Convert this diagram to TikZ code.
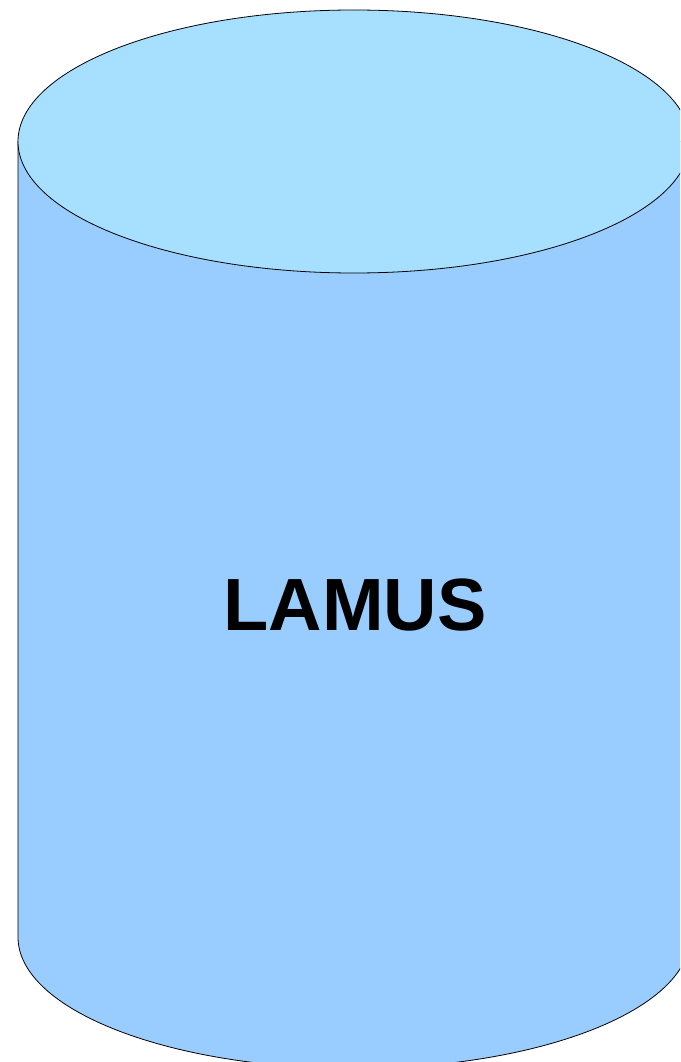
\documentclass[tikz,border=0pt]{standalone}
\usepackage{fontspec}
\setmainfont{Liberation Sans}
\definecolor{bodyblue}{HTML}{99CCFF}
\definecolor{topblue}{HTML}{A6DFFF}
\begin{document}
\begin{tikzpicture}[x=1pt,y=1pt,
  cyl/.style={draw=black,line width=0.8pt},
  lbl/.style={font=\fontsize{74}{78}\selectfont\bfseries,text=black,inner sep=0pt}]
\useasboundingbox (0,0) rectangle (680,-1062);
\clip (0,0) rectangle (680,-1062);
% body
\path[cyl,fill=bodyblue] (18,-141.5) -- (18,-937)
  arc[start angle=180,end angle=360,x radius=336,y radius=131.5]
  -- (690,-141.5) -- cycle;
% top ellipse
\path[cyl,fill=topblue] (354,-141.5) ellipse[x radius=336,y radius=131.5];
\node[lbl,anchor=base] (label) at (355,-630) {LAMUS};
\end{tikzpicture}
\end{document}
